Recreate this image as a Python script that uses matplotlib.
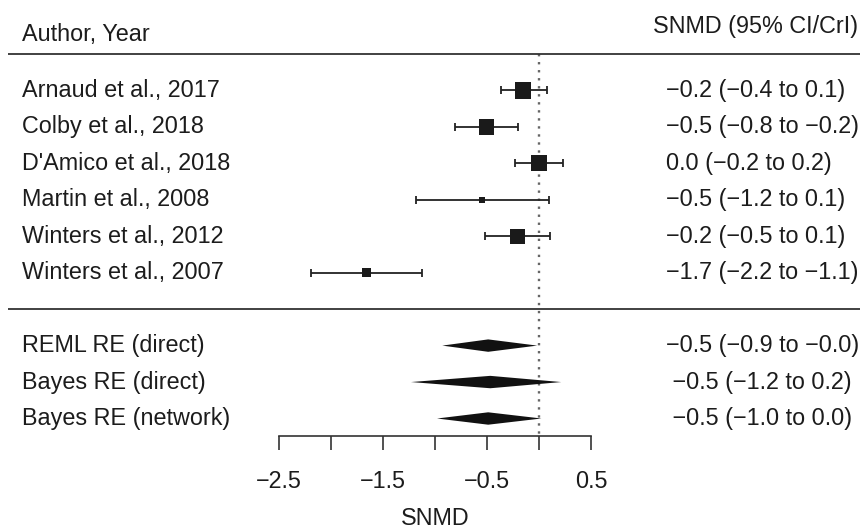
import matplotlib
matplotlib.use("Agg")
import matplotlib.pyplot as plt
import numpy as np

plt.rcParams['font.family'] = ['Liberation Sans', 'DejaVu Sans']

# ---------------- data ----------------
study_labels = ["Arnaud et al., 2017", "Colby et al., 2018", "D'Amico et al., 2018",
                "Martin et al., 2008", "Winters et al., 2012", "Winters et al., 2007"]
study_est = [-0.16, -0.505, 0.0, -0.546, -0.21, -1.656]
study_lo = [-0.37, -0.81, -0.23, -1.18, -0.52, -2.19]
study_hi = [0.07, -0.20, 0.23, 0.093, 0.105, -1.12]
study_weights = [20.8, 19.5, 20.8, 7.8, 19.5, 11.7]   # relative weights (%)
study_text = ["\u22120.2 (\u22120.4 to 0.1)", "\u22120.5 (\u22120.8 to \u22120.2)",
              "0.0 (\u22120.2 to 0.2)", "\u22120.5 (\u22121.2 to 0.1)",
              "\u22120.2 (\u22120.5 to 0.1)", "\u22121.7 (\u22122.2 to \u22121.1)"]

pooled_labels = ["REML RE (direct)", "Bayes RE (direct)", "Bayes RE (network)"]
pooled_est = [-0.49, -0.47, -0.49]
pooled_lo = [-0.93, -1.23, -0.98]
pooled_hi = [-0.02, 0.21, 0.02]
pooled_text = ["\u22120.5 (\u22120.9 to \u22120.0)", " \u22120.5 (\u22121.2 to 0.2)",
               " \u22120.5 (\u22121.0 to 0.0)"]

x_ticks = [-2.5, -2.0, -1.5, -1.0, -0.5, 0.0, 0.5]
x_ticklabels = ["\u22122.5", "", "\u22121.5", "", "\u22120.5", "", "0.5"]
x_label = "SNMD"
header_left = "Author, Year"
header_right = "SNMD (95% CI/CrI)"

# ---------------- layout ----------------
W, H = 860, 529
X0_PX, PX_PER_UNIT = 539.3, 104.3
ROW0_PX, ROW_PX = 54.0, 36.45
FS = 16.8
TXT = '#1c1c1c'

fig = plt.figure(figsize=(W / 100, H / 100), dpi=100)
ax = fig.add_axes([0, 0, 1, 1])
ax.set_xlim(-X0_PX / PX_PER_UNIT, (W - X0_PX) / PX_PER_UNIT)
ax.set_ylim((H - ROW0_PX) / ROW_PX, -ROW0_PX / ROW_PX)

def py(px):
    return (px - ROW0_PX) / ROW_PX

for s in ['top', 'left', 'right']:
    ax.spines[s].set_visible(False)
ax.set_yticks([])

n = len(study_labels)
study_rows = np.arange(1, n + 1)
sep_row = n + 1
pooled_rows = np.arange(n + 2, n + 2 + len(pooled_labels))
axis_row = pooled_rows[-1] + 17.7 / ROW_PX

ytr = ax.get_yaxis_transform()
base_off = 6.5 / ROW_PX

# header
ax.text(22 / W, py(41.5), header_left, transform=ytr, ha='left', va='baseline',
        fontsize=FS, color=TXT)
ax.text(858 / W, py(33), header_right, transform=ytr, ha='right', va='baseline',
        fontsize=FS, color=TXT)

# horizontal rules
for r in [0, sep_row]:
    ax.plot([8 / W, 1], [r, r], transform=ytr, color='#333333', lw=1.3,
            solid_capstyle='butt', zorder=2)

# null line
ax.plot([0, 0], [0, axis_row], color='#666666', lw=1.7,
        linestyle=(0, (1.0, 2.4)), zorder=1)

# studies
est = np.array(study_est)
ax.errorbar(est, study_rows, xerr=[est - np.array(study_lo), np.array(study_hi) - est],
            fmt='none', ecolor='#222222', elinewidth=1.3, capsize=2.9, capthick=1.3,
            zorder=3)
side_px = np.array(study_weights) * 0.78
ax.scatter(est, study_rows, marker='s', s=(side_px * 0.72) ** 2, color='#1a1a1a',
           linewidths=0, zorder=4)

for r, lab, t in zip(study_rows, study_labels, study_text):
    ax.text(22 / W, r + base_off, lab, transform=ytr, ha='left', va='baseline',
            fontsize=FS, color=TXT)
    ax.text(666 / W, r + base_off, t, transform=ytr, ha='left', va='baseline',
            fontsize=FS, color=TXT)

# pooled diamonds
hh = 6.2 / ROW_PX
for r, lab, e, lo, hi, t in zip(pooled_rows, pooled_labels, pooled_est, pooled_lo,
                                pooled_hi, pooled_text):
    ax.fill([lo, e, hi, e], [r, r - hh, r, r + hh], color='#111111', lw=0, zorder=4)
    ax.text(22 / W, r + base_off, lab, transform=ytr, ha='left', va='baseline',
            fontsize=FS, color=TXT)
    ax.text(666 / W, r + base_off, t, transform=ytr, ha='left', va='baseline',
            fontsize=FS, color=TXT)

# x axis
ax.spines['bottom'].set_position(('data', axis_row))
ax.spines['bottom'].set_bounds(x_ticks[0], x_ticks[-1])
ax.spines['bottom'].set_linewidth(1.2)
ax.spines['bottom'].set_color('#333333')
ax.set_xticks(x_ticks)
ax.set_xticklabels(x_ticklabels)
ax.tick_params(axis='x', direction='out', length=10, width=1.2, color='#333333',
               labelsize=FS, labelcolor=TXT, pad=14)
ax.text(np.mean([x_ticks[0], x_ticks[-1]]), py(525), x_label, ha='center',
        va='baseline', fontsize=FS, color=TXT)

fig.savefig('out.png', dpi=100)
